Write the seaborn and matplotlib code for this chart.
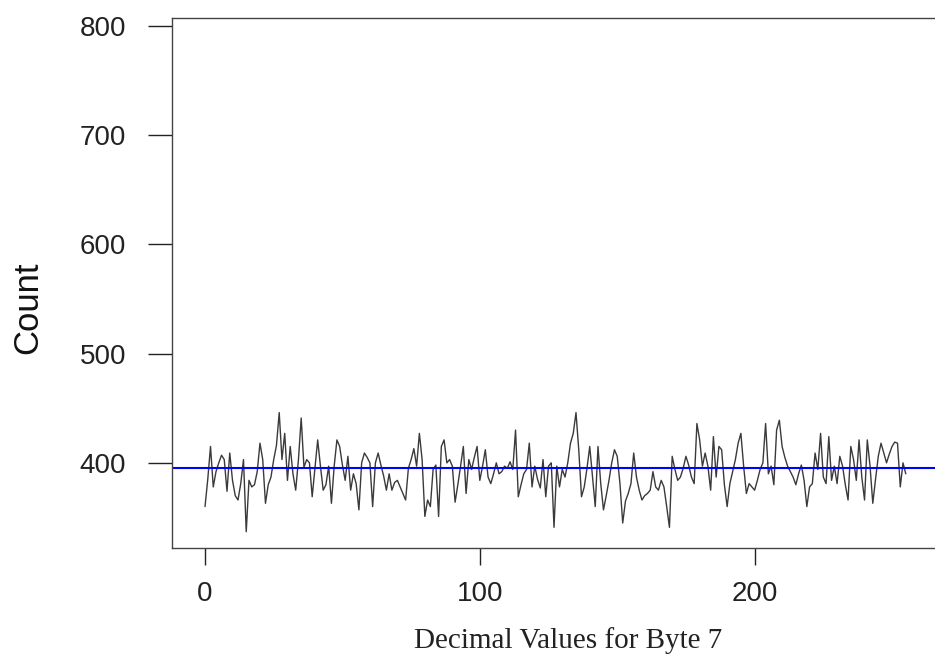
import numpy as np
import pandas as pd
import matplotlib
matplotlib.use("Agg")
import matplotlib.pyplot as plt
import seaborn as sns

# counts, one per byte value 0..255
counts = [
    360, 385, 415, 378, 392, 400, 407, 403, 374, 409,
    384, 370, 366, 381, 403, 337, 384, 378, 380, 392,
    418, 403, 363, 380, 387, 403, 416, 446, 403, 427,
    384, 415, 390, 375, 403, 441, 396, 403, 400, 369,
    395, 421, 397, 375, 380, 397, 363, 397, 421, 415,
    398, 384, 406, 375, 390, 381, 357, 400, 409, 405,
    400, 360, 400, 409, 398, 388, 375, 390, 375, 382,
    384, 378, 372, 366, 395, 403, 413, 397, 427, 403,
    351, 366, 360, 394, 398, 351, 415, 421, 400, 403,
    397, 364, 380, 397, 415, 372, 403, 394, 405, 415,
    384, 397, 412, 387, 381, 390, 400, 390, 392, 397,
    395, 401, 394, 430, 369, 380, 390, 394, 418, 378,
    397, 385, 377, 403, 369, 397, 400, 341, 397, 378,
    394, 387, 400, 418, 427, 446, 412, 369, 378, 395,
    415, 387, 360, 415, 381, 357, 370, 384, 400, 412,
    406, 381, 345, 365, 372, 381, 409, 387, 375, 366,
    370, 372, 375, 392, 378, 375, 384, 378, 360, 341,
    406, 394, 384, 387, 395, 406, 398, 387, 381, 436,
    421, 397, 409, 397, 375, 424, 387, 415, 412, 380,
    360, 381, 392, 403, 418, 427, 397, 372, 381, 378,
    375, 384, 394, 400, 436, 390, 397, 380, 430, 439,
    415, 405, 397, 392, 387, 380, 390, 398, 384, 360,
    378, 381, 409, 394, 427, 387, 381, 424, 384, 397,
    381, 406, 397, 380, 366, 415, 403, 384, 421, 387,
    366, 421, 397, 363, 385, 406, 418, 409, 400, 408,
    415, 419, 418, 378, 400, 390,
]
byte_values = list(range(256))
mean_count = 395
y_ticks = [400, 500, 600, 700, 800]
x_ticks = [0, 100, 200]

df = pd.DataFrame({"value": byte_values, "count": counts})

sns.set_style("ticks")
plt.rcParams['font.family'] = ['Liberation Sans', 'DejaVu Sans']

fig = plt.figure(figsize=(9.35, 6.66), dpi=100)
ax = fig.add_axes([0.184, 0.177, 0.820, 0.796])

sns.lineplot(data=df, x="value", y="count", ax=ax, color="#3a3a3a", linewidth=1.0)
ax.axhline(mean_count, color="#0000ff", linewidth=1.5)

ax.set_xlim(-12, 267)
ax.set_ylim(322, 807)
ax.set_xticks(x_ticks)
ax.set_yticks(y_ticks)
ax.tick_params(axis="y", length=17, width=1, pad=16, labelsize=20, colors="#222222")
ax.tick_params(axis="x", length=12, width=1, pad=12, labelsize=20, colors="#222222")
for s in ax.spines.values():
    s.set_color("#444444")
    s.set_linewidth(1)

ax.set_xlabel("Decimal Values for Byte 7", family="Liberation Serif", fontsize=21, color="#222222")
ax.xaxis.set_label_coords(0.516, -0.149)
ax.set_ylabel("")
fig.text(28 / 935, 1 - 308 / 666, "Count", rotation=90, ha="center", va="center",
         fontsize=25, color="#111111")

fig.savefig("out.png", dpi=100)
